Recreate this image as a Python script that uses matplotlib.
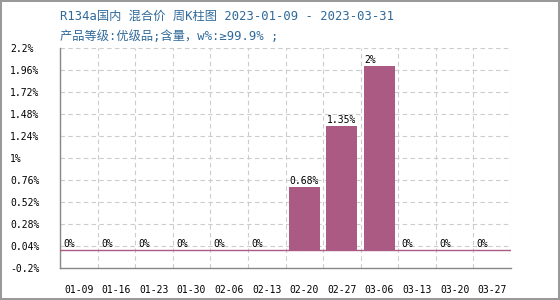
import matplotlib
matplotlib.use("Agg")
import matplotlib.pyplot as plt
import numpy as np

plt.rcParams['font.family'] = ['Noto Sans CJK SC', 'DejaVu Sans']

categories = ["01-09", "01-16", "01-23", "01-30", "02-06", "02-13",
              "02-20", "02-27", "03-06", "03-13", "03-20", "03-27"]
values = [0, 0, 0, 0, 0, 0, 0.68, 1.35, 2.0, 0, 0, 0]
labels = ["0%", "0%", "0%", "0%", "0%", "0%", "0.68%", "1.35%", "2%", "0%", "0%", "0%"]
yticks = [-0.2, 0.04, 0.28, 0.52, 0.76, 1.0, 1.24, 1.48, 1.72, 1.96, 2.2]
ytick_labels = ["-0.2%", "0.04%", "0.28%", "0.52%", "0.76%", "1%", "1.24%", "1.48%", "1.72%", "1.96%", "2.2%"]
title1 = "R134a国内 混合价 周K柱图 2023-01-09 - 2023-03-31"
title2 = "产品等级:优级品;含量，w%:≥99.9% ;"

bar_color = "#AB5A84"
mono = ['DejaVu Sans Mono', 'Noto Sans CJK SC']

fig = plt.figure(figsize=(5.6, 3.0), dpi=100)
fig.patch.set_edgecolor('#999999')
fig.patch.set_linewidth(1.5)
ax = fig.add_axes([60/560, 1-268/300, 451/560, 220/300])

x = np.arange(len(categories))
w = 0.82
ax.bar(x - w/2, values, width=w, align='edge', color=bar_color, zorder=3)
ax.axhline(0, color=bar_color, lw=1, zorder=3)
for xi, v, lab in zip(x, values, labels):
    ax.text(xi - w/2, v + 0.01, lab, ha='left', va='bottom', fontsize=7,
            family=mono, zorder=4)

ax.set_xlim(-0.5, len(categories) - 0.5)
ax.set_ylim(-0.2, 2.2)
ax.set_yticks(yticks)
ax.set_yticklabels(ytick_labels, family=mono, fontsize=7)
for t in ax.get_yticklabels():
    t.set_ha('left')
ax.tick_params(axis='y', length=0, pad=36)
ax.set_xticks(x)
ax.set_xticklabels(categories, family=mono, fontsize=7)
ax.set_xticks(np.arange(len(categories) + 1) - 0.5, minor=True)
ax.tick_params(axis='x', which='both', length=0, pad=12)

ax.grid(True, axis='y', which='major', ls=(0, (4, 3)), color='#cccccc', lw=0.8, zorder=0)
ax.grid(True, axis='x', which='minor', ls=(0, (4, 3)), color='#cccccc', lw=0.8, zorder=0)
ax.grid(False, axis='x', which='major')

for s in ['top', 'right']:
    ax.spines[s].set_visible(False)
for s in ['left', 'bottom']:
    ax.spines[s].set_color('#888888')
    ax.spines[s].set_linewidth(1)

fig.text(60/560, 1-16/300, title1, fontsize=8.8, color='#2F6A9A', family=mono, va='center')
fig.text(60/560, 1-36/300, title2, fontsize=8.8, color='#2F6A9A', family=mono, va='center')

fig.savefig("out.png", dpi=100, edgecolor=fig.get_edgecolor())
